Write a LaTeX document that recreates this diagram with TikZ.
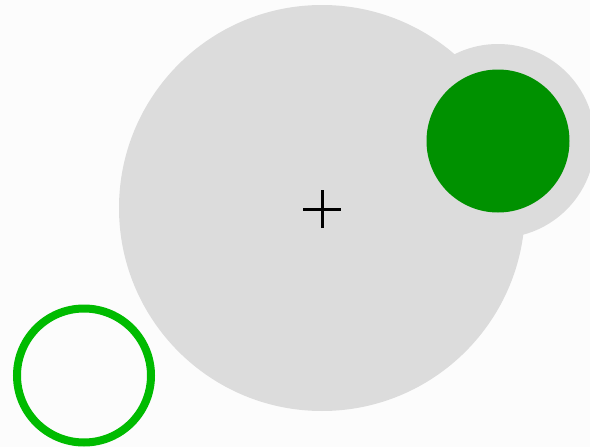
\documentclass[tikz,border=0pt]{standalone}
\definecolor{lgray}{HTML}{DCDCDC}
\definecolor{bg}{HTML}{FCFCFC}
\definecolor{dgreen}{HTML}{009100}
\definecolor{ring}{HTML}{00BB00}
\begin{document}
\begin{tikzpicture}[x=1pt,y=-1pt,
  graydisc/.style={circle, fill=lgray, inner sep=0pt},
  crossmark/.style={draw=black, line width=3pt},
  ]
\useasboundingbox[fill=bg] (0,0) rectangle (590,447);
\begin{scope}
\clip (0,0) rectangle (590,447);
\node[graydisc, minimum size=406pt] (big) at (322,208) {};
\node[graydisc, minimum size=194pt] (halo) at (498,141) {};
\node[circle, fill=dgreen, inner sep=0pt, minimum size=143pt] (dot) at (498,141) {};
\node[circle, draw=ring, line width=8pt, inner sep=0pt, minimum size=134pt] (ringc) at (84,375.5) {};
\coordinate (c) at (322,209);
\draw[crossmark] ([xshift=-19pt]c) -- ([xshift=19pt]c);
\draw[crossmark] ([yshift=-19pt]c) -- ([yshift=19pt]c);
\end{scope}
\end{tikzpicture}
\end{document}
